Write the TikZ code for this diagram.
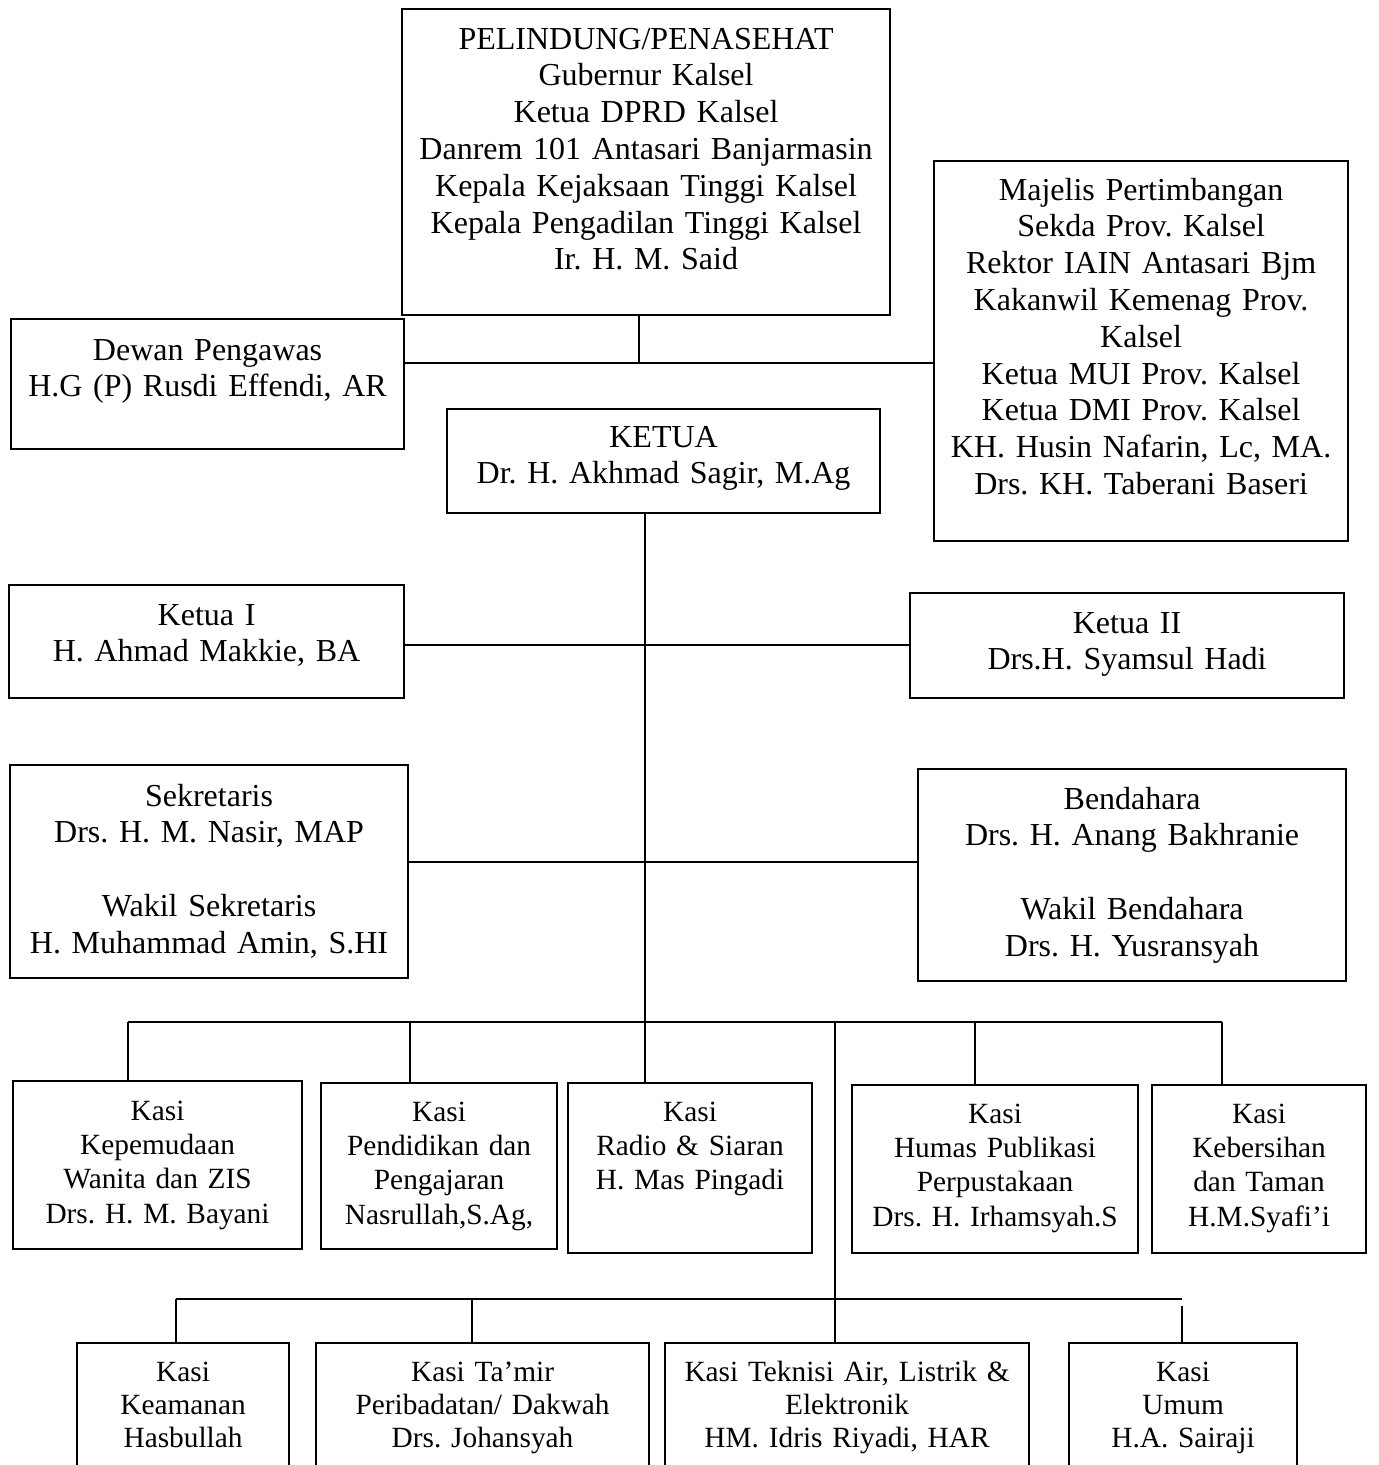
\documentclass[tikz,border=0pt]{standalone}
\usepackage{fontspec}
\setmainfont{Liberation Serif}
\frenchspacing

\begin{document}
\begin{tikzpicture}[
 x=0.375pt, y=-0.375pt,
 kotak/.style = {
    rectangle,
    draw=black,
    line width=0.8pt,
    inner sep=0pt,
    anchor=north west,
    align=center,
    font=\fontsize{12}{13.8}\selectfont},
 kasi/.style = {kotak, font=\fontsize{11}{12.9}\selectfont},
 kasibawah/.style = {kotak, font=\fontsize{11}{12.4}\selectfont},
 garis/.style = {line width=0.6pt},
 bus/.style = {line width=1.1pt}
 ]
\useasboundingbox (0,0) rectangle (1379,1465);
\clip (0,0) rectangle (1379,1465);

% pimpinan
\node(pelindung)[kotak,text width=183pt,text height=15pt,text depth=99.75pt] at (401,8)
 {PELINDUNG/PENASEHAT\\ Gubernur Kalsel\\ Ketua DPRD Kalsel\\ Danrem 101 Antasari Banjarmasin\\
  Kepala Kejaksaan Tinggi Kalsel\\ Kepala Pengadilan Tinggi Kalsel\\ Ir. H. M. Said};
\node(majelis)[kotak,text width=155.25pt,text height=14.625pt,text depth=127.875pt] at (933,160)
 {Majelis Pertimbangan\\ Sekda Prov. Kalsel\\ Rektor IAIN Antasari Bjm\\ Kakanwil Kemenag Prov.\\ Kalsel\\
  Ketua MUI Prov. Kalsel\\ Ketua DMI Prov. Kalsel\\ KH. Husin Nafarin, Lc, MA.\\ Drs. KH. Taberani Baseri};
\node(dewan)[kotak,text width=147.375pt,text height=15.375pt,text depth=33.375pt] at (10,318)
 {Dewan Pengawas\\ H.G (P) Rusdi Effendi, AR};
\node(ketua)[kotak,text width=162.375pt,text height=14.25pt,text depth=24.75pt] at (446,408)
 {KETUA\\ Dr. H. Akhmad Sagir, M.Ag};
\node(ketuaI)[kotak,text width=148.125pt,text height=15pt,text depth=27.375pt] at (8,584)
 {Ketua I\hspace*{22pt}\\ H. Ahmad Makkie, BA\hspace*{22pt}};
\node(ketuaII)[kotak,text width=162.75pt,text height=15pt,text depth=24.375pt] at (909,592)
 {Ketua II\\ Drs.H. Syamsul Hadi};
\node(sekretaris)[kotak,text width=149.25pt,text height=15.375pt,text depth=64.5pt] at (9,764)
 {Sekretaris\\ Drs. H. M. Nasir, MAP\\[13.8pt] Wakil Sekretaris\\ H. Muhammad Amin, S.HI};
\node(bendahara)[kotak,text width=160.5pt,text height=15pt,text depth=64.5pt] at (917,768)
 {Bendahara\\ Drs. H. Anang Bakhranie\\[13.8pt] Wakil Bendahara\\ Drs. H. Yusransyah};

% seksi baris atas
\node(kasiA)[kasi,text width=108.375pt,text height=14.625pt,text depth=48.375pt] at (12,1080)
 {Kasi\\ Kepemudaan\\ Wanita dan ZIS\\ Drs. H. M. Bayani};
\node(kasiB)[kasi,text width=88.5pt,text height=14.25pt,text depth=48pt] at (320,1082)
 {Kasi\\ Pendidikan dan\\ Pengajaran\\ Nasrullah,S.Ag,};
\node(kasiC)[kasi,text width=91.5pt,text height=14.25pt,text depth=49.5pt] at (567,1082)
 {Kasi\\ Radio \& Siaran\\ H. Mas Pingadi};
\node(kasiD)[kasi,text width=107.25pt,text height=14.25pt,text depth=48.75pt] at (851,1084)
 {Kasi\\ Humas Publikasi\\ Perpustakaan\\ Drs. H. Irhamsyah.S};
\node(kasiE)[kasi,text width=80.25pt,text height=14.25pt,text depth=48.75pt] at (1151,1084)
 {Kasi\\ Kebersihan\\ dan Taman\\ H.M.Syafi’i};

% seksi baris bawah
\node(kasiF)[kasibawah,text width=79.5pt,text height=14.25pt,text depth=38.25pt] at (76,1342)
 {Kasi\\ Keamanan\\ Hasbullah};
\node(kasiG)[kasibawah,text width=124.875pt,text height=14.25pt,text depth=38.25pt] at (315,1342)
 {Kasi Ta’mir\\ Peribadatan/ Dakwah\\ Drs. Johansyah};
\node(kasiH)[kasibawah,text width=136.5pt,text height=14.25pt,text depth=38.25pt] at (664,1342)
 {Kasi Teknisi Air, Listrik \&\\ Elektronik\\ HM. Idris Riyadi, HAR};
\node(kasiI)[kasibawah,text width=85.5pt,text height=14.25pt,text depth=38.25pt] at (1068,1342)
 {Kasi\\ Umum\\ H.A. Sairaji};

% titik simpul garis
\coordinate(atas) at (639,363);
\coordinate(tengah) at (645,645);
\coordinate(keuangan) at (645,862);
\coordinate(busA) at (128,1022);
\coordinate(busB) at (410,1022);
\coordinate(busD) at (975,1022);
\coordinate(busE) at (1222,1022);
\coordinate(cabang) at (835,1022);
\coordinate(busF) at (176,1299);
\coordinate(busG) at (472,1299);
\coordinate(busH) at (835,1299);
\coordinate(busI) at (1182,1299);

% garis penghubung
\draw[garis] (atas |- pelindung.south) -- (atas);
\draw[bus] (dewan.east |- atas) -- (majelis.west |- atas);
\draw[garis] (tengah |- ketua.south) -- (tengah |- kasiC.north);
\draw[bus] (ketuaI.east |- tengah) -- (ketuaII.west |- tengah);
\draw[bus] (sekretaris.east |- keuangan) -- (bendahara.west |- keuangan);
\draw[bus] (busA) -- (busE);
\draw[garis] (busA) -- (busA |- kasiA.north);
\draw[garis] (busB) -- (busB |- kasiB.north);
\draw[garis] (busD) -- (busD |- kasiD.north);
\draw[garis] (busE) -- (busE |- kasiE.north);
\draw[garis] (cabang) -- (cabang |- kasiH.north);
\draw[bus] (busF) -- (busI);
\draw[garis] (busF) -- (busF |- kasiF.north);
\draw[garis] (busG) -- (busG |- kasiG.north);
\draw[garis] ([yshift=-7*0.375pt]busI) -- (busI |- kasiI.north);

\end{tikzpicture}
\end{document}
